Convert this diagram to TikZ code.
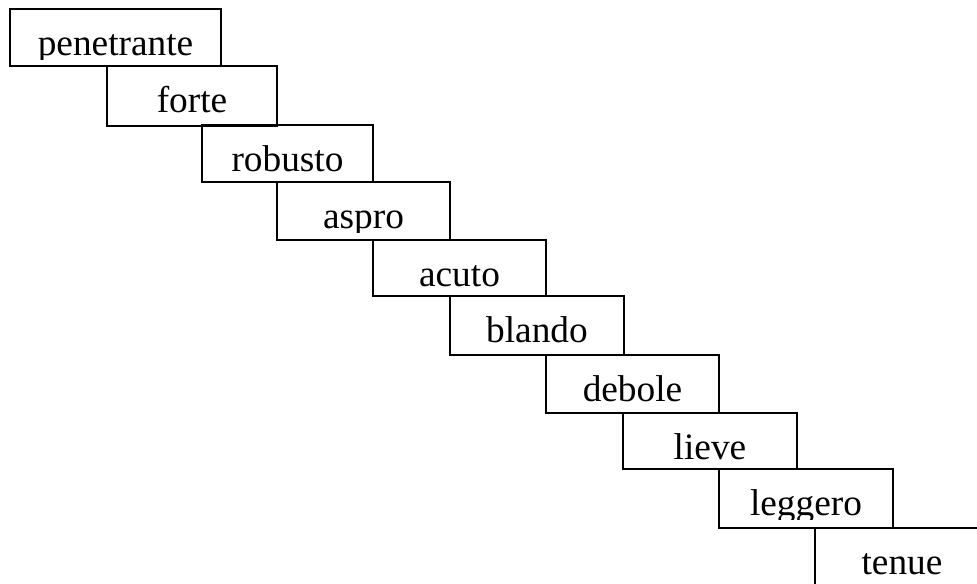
\documentclass[tikz,border=0pt]{standalone}
\usepackage{fontspec}
\setmainfont{Liberation Serif}
\newcommand\stepbox[6]{%
  \node[bx, minimum width={(#4-#2)*0.75pt}, minimum height={(#5-#3)*0.75pt}] (#1) at (#2,#3) {};
  \begin{scope}
    \clip (#2,#3) rectangle (#4,#3+50);
    \node[lbl] (#1t) at ({(#2+#4)/2},#3+46) {#6};
  \end{scope}}
\begin{document}
\begin{tikzpicture}[x=0.75pt,y=-0.75pt,
  bx/.style={draw, line width=1.9pt, rectangle, inner sep=0pt, outer sep=0pt, anchor=north west},
  lbl/.style={font=\fontsize{28}{31}\selectfont, anchor=base, inner sep=0pt}]
\useasboundingbox (0,0) rectangle (977,583);
\clip (0,0) rectangle (977,583);
\stepbox{b1}{10}{9}{221}{66}{penetrante}
\stepbox{b2}{107}{66}{277}{126}{forte}
\stepbox{b3}{202}{125}{373}{182}{robusto}
\stepbox{b4}{277}{182}{450}{240}{aspro}
\stepbox{b5}{373}{240}{546}{296}{acuto}
\stepbox{b6}{450}{296}{624}{355}{blando}
\stepbox{b7}{546}{355}{719}{413}{debole}
\stepbox{b8}{623}{413}{797}{469}{lieve}
\stepbox{b9}{719}{469}{893}{528}{leggero}
\stepbox{b10}{815}{528}{989}{586}{tenue}
\end{tikzpicture}
\end{document}
